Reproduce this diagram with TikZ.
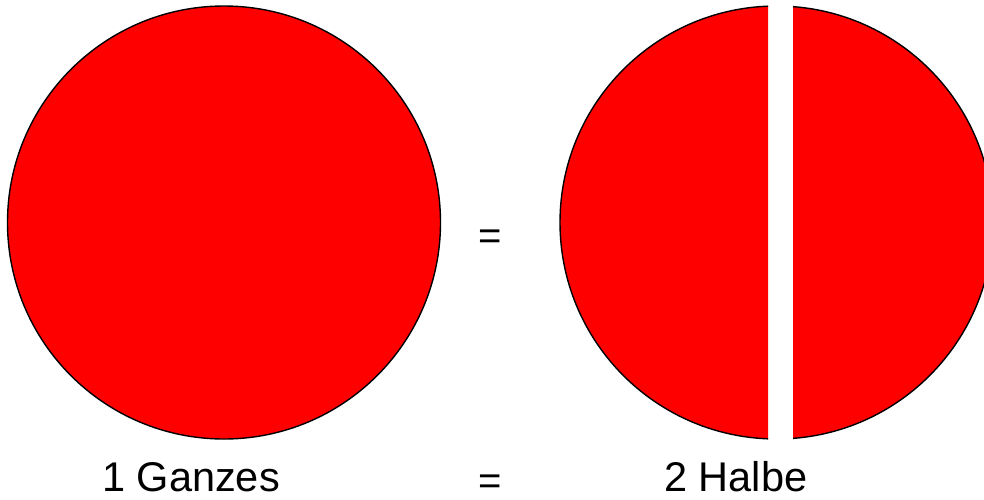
\documentclass[tikz,border=0pt]{standalone}
\usepackage{fontspec}
\setmainfont{Liberation Sans}
\begin{document}
\begin{tikzpicture}[x=1pt,y=-1pt,
  disc/.style={fill={rgb,255:red,255;green,0;blue,0},draw=black,line width=1.4pt},
  lbl/.style={inner sep=0pt,font=\fontsize{41.5}{48}\selectfont,anchor=base west},
  eq/.style={inner sep=0pt,font=\fontsize{40}{48}\selectfont,anchor=base}]
\useasboundingbox (0,0) rectangle (984,499);
% left whole circle
\path[disc] (224,222.5) circle (216.5);
% right circle cut into two halves
\begin{scope}
  \clip (0,0) rectangle (768,499);
  \path[disc] (776.5,222.5) circle (216.5);
\end{scope}
\begin{scope}
  \clip (793,0) rectangle (1000,499);
  \path[disc] (776.5,222.5) circle (216.5);
\end{scope}
\node[eq] (eqtop) at (490.5,249) {=};
\node[lbl] (ganzes) at (102,491) {1 Ganzes};
\node[eq] (eqbot) at (490.5,494) {=};
\node[lbl] (halbe) at (664,491) {2 Halbe};
\end{tikzpicture}
\end{document}
